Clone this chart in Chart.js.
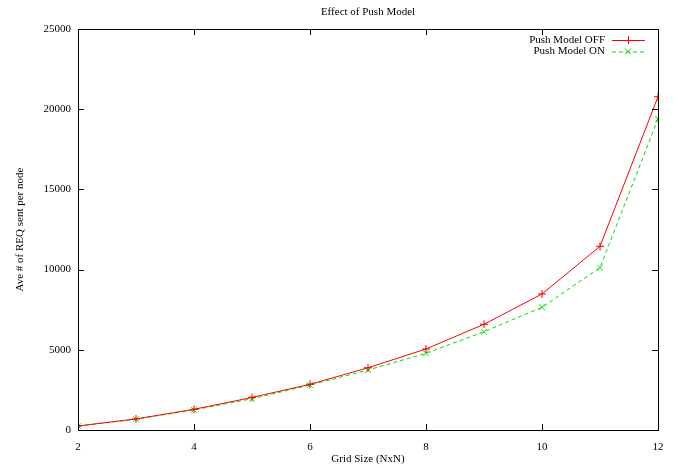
<!DOCTYPE html>
<html>
<head>
<meta charset="utf-8">
<script src="https://cdn.jsdelivr.net/npm/chart.js@4"></script>
<style>
  html, body { margin: 0; padding: 0; background: #fff; }
  #wrap { width: 678px; height: 468px; }
</style>
</head>
<body>
<div id="wrap"><canvas id="pushChart"></canvas></div>
<script>
const gridSizes = [2, 3, 4, 5, 6, 7, 8, 9, 10, 11, 12];
const pushOff = [250, 690, 1290, 2030, 2850, 3880, 5050, 6590, 8480, 11450, 20780];
const pushOn = [240, 680, 1250, 1950, 2800, 3740, 4780, 6130, 7650, 10120, 19390];
const xTicks = [2, 4, 6, 8, 10, 12];
const yTicks = [0, 5000, 10000, 15000, 20000, 25000];

const FONT = '"Liberation Serif", "DejaVu Serif", serif';
const RED = '#ff0000';
const GREEN = '#00e000';

// gnuplot style box, inward ticks (mirrored), title and key
const gnuplotFrame = {
    id: 'gnuplotFrame',
    afterDatasetsDraw(chart) {
        const {ctx, chartArea: a, scales: {x, y}} = chart;
        const tick = 6;
        ctx.save();
        ctx.strokeStyle = '#000';
        ctx.lineWidth = 1;
        ctx.strokeRect(a.left + 0.5, a.top + 0.5, a.right - a.left, a.bottom - a.top);
        ctx.beginPath();
        xTicks.forEach(v => {
            const px = Math.round(x.getPixelForValue(v)) + 0.5;
            ctx.moveTo(px, a.bottom); ctx.lineTo(px, a.bottom - tick);
            ctx.moveTo(px, a.top); ctx.lineTo(px, a.top + tick);
        });
        yTicks.forEach(v => {
            const py = Math.round(y.getPixelForValue(v)) + 0.5;
            ctx.moveTo(a.left, py); ctx.lineTo(a.left + tick, py);
            ctx.moveTo(a.right, py); ctx.lineTo(a.right - tick, py);
        });
        ctx.stroke();

        // title
        ctx.fillStyle = '#000';
        ctx.font = '11px ' + FONT;
        ctx.textAlign = 'center';
        ctx.textBaseline = 'middle';
        ctx.fillText('Effect of Push Model', (a.left + a.right) / 2, 12);

        // key
        const keys = [
            {label: 'Push Model OFF', color: RED, dash: [], style: 'plus'},
            {label: 'Push Model ON', color: GREEN, dash: [4, 3], style: 'x'}
        ];
        keys.forEach((k, i) => {
            const ky = 40 + i * 11.5;
            ctx.fillStyle = '#000';
            ctx.textAlign = 'right';
            ctx.fillText(k.label, 605, ky);
            ctx.strokeStyle = k.color;
            ctx.setLineDash(k.dash);
            ctx.beginPath();
            ctx.moveTo(612, ky + 0.5); ctx.lineTo(645, ky + 0.5);
            ctx.stroke();
            ctx.setLineDash([]);
            ctx.beginPath();
            const cx = 628, r = 4;
            if (k.style === 'plus') {
                ctx.moveTo(cx - r, ky + 0.5); ctx.lineTo(cx + r, ky + 0.5);
                ctx.moveTo(cx + 0.5, ky - r); ctx.lineTo(cx + 0.5, ky + r);
            } else {
                ctx.moveTo(cx - 3, ky - 3); ctx.lineTo(cx + 3, ky + 3);
                ctx.moveTo(cx - 3, ky + 3); ctx.lineTo(cx + 3, ky - 3);
            }
            ctx.stroke();
        });
        ctx.restore();
    }
};

const ctx = document.getElementById('pushChart').getContext('2d');

new Chart(ctx, {
    type: 'line',
    data: {
        datasets: [
            {
                label: 'Push Model OFF',
                data: gridSizes.map((g, i) => ({x: g, y: pushOff[i]})),
                borderColor: RED,
                backgroundColor: RED,
                borderWidth: 1,
                pointStyle: 'cross',
                pointRadius: 4,
                pointBorderWidth: 1,
                pointBorderColor: RED,
                tension: 0
            },
            {
                label: 'Push Model ON',
                data: gridSizes.map((g, i) => ({x: g, y: pushOn[i]})),
                borderColor: GREEN,
                backgroundColor: GREEN,
                borderWidth: 1,
                borderDash: [4, 3],
                pointStyle: 'crossRot',
                pointRadius: 4,
                pointBorderWidth: 1,
                pointBorderColor: GREEN,
                tension: 0
            }
        ]
    },
    options: {
        responsive: true,
        maintainAspectRatio: false,
        animation: false,
        events: [],
        layout: {
            padding: {left: 0, top: 29, right: 20, bottom: 0}
        },
        plugins: {
            legend: {display: false},
            title: {display: false},
            tooltip: {enabled: false}
        },
        scales: {
            x: {
                type: 'linear',
                min: 2,
                max: 12,
                afterFit(scale) { scale.height = 38; },
                afterBuildTicks(scale) { scale.ticks = xTicks.map(v => ({value: v})); },
                grid: {display: false, drawTicks: false},
                border: {display: false},
                ticks: {
                    color: '#000',
                    padding: 11,
                    maxRotation: 0,
                    font: {family: FONT, size: 11}
                },
                title: {
                    display: true,
                    text: 'Grid Size (NxN)',
                    color: '#000',
                    font: {family: FONT, size: 11},
                    padding: {top: 0, bottom: 2}
                }
            },
            y: {
                type: 'linear',
                min: 0,
                max: 25000,
                afterFit(scale) { scale.width = 78; },
                afterBuildTicks(scale) { scale.ticks = yTicks.map(v => ({value: v})); },
                grid: {display: false, drawTicks: false},
                border: {display: false},
                ticks: {
                    color: '#000',
                    padding: 7,
                    font: {family: FONT, size: 11},
                    callback: v => String(v)
                },
                title: {
                    display: true,
                    text: 'Ave # of REQ sent per node',
                    color: '#000',
                    font: {family: FONT, size: 11},
                    padding: {top: 14, bottom: 0}
                }
            }
        }
    },
    plugins: [gnuplotFrame]
});
</script>
</body>
</html>
